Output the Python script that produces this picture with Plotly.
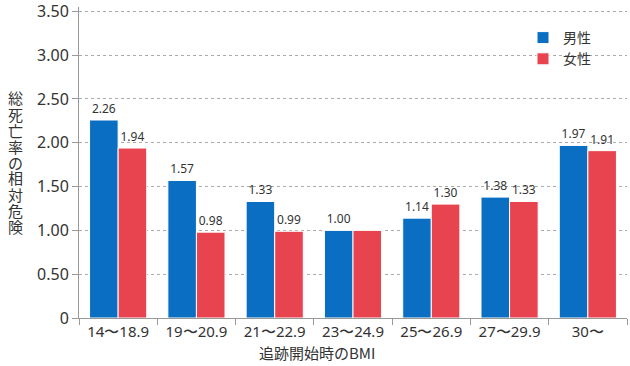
import plotly.graph_objects as go

categories = ["14〜18.9", "19〜20.9", "21〜22.9", "23〜24.9", "25〜26.9", "27〜29.9", "30〜"]
male = [2.26, 1.57, 1.33, 1.00, 1.14, 1.38, 1.97]
female = [1.94, 0.98, 0.99, 1.00, 1.30, 1.33, 1.91]
male_labels = ["2.26", "1.57", "1.33", "1.00", "1.14", "1.38", "1.97"]
female_labels = ["1.94", "0.98", "0.99", "", "1.30", "1.33", "1.91"]
y_ticks = [0, 0.5, 1.0, 1.5, 2.0, 2.5, 3.0, 3.5]
y_tick_text = ["0", "0.50", "1.00", "1.50", "2.00", "2.50", "3.00", "3.50"]
y_title = "総死亡率の相対危険"
x_title = "追跡開始時のBMI"

FONT = "Noto Sans CJK JP"
NUMFONT = "Noto Sans"
BLUE = "#0a6fc2"
RED = "#e8444f"

T, B, L, R = 7, 48, 79, 3
PH = 366 - T - B
PW = 630 - L - R

fig = go.Figure()
fig.add_trace(go.Bar(
    name="男性", x=categories, y=male, text=male_labels, textposition="outside",
    textfont=dict(size=12, color="#333333", family=NUMFONT), cliponaxis=False,
    marker=dict(color=BLUE, line=dict(color="white", width=1)),
))
fig.add_trace(go.Bar(
    name="女性", x=categories, y=female, text=female_labels, textposition="outside",
    textfont=dict(size=12, color="#333333", family=NUMFONT), cliponaxis=False,
    marker=dict(color=RED, line=dict(color="white", width=1)),
))

fig.update_layout(
    width=630, height=366,
    margin=dict(l=L, r=R, t=T, b=B, autoexpand=False),
    paper_bgcolor="white", plot_bgcolor="white",
    barmode="group", bargap=0.27, bargroupgap=0,
    font=dict(family=FONT, color="#333333"),
    showlegend=True,
    legend=dict(x=(523 - L) / PW, y=1 - (22 - T) / PH, xanchor="left", yanchor="top",
                font=dict(size=14, color="#333333", family=FONT),
                bgcolor="rgba(0,0,0,0)", tracegroupgap=0, itemwidth=30),
    xaxis=dict(
        automargin=False,
        showline=True, linecolor="#999999", linewidth=1,
        ticks="outside", tickson="boundaries", ticklen=6, tickcolor="#999999",
        tickfont=dict(size=15, color="#333333", family=NUMFONT),
    ),
    yaxis=dict(
        automargin=False,
        range=[0, 3.55], tickvals=y_ticks, ticktext=y_tick_text,
        ticklabeloverflow="allow",
        showline=True, linecolor="#999999", linewidth=1,
        ticks="outside", ticklen=6, tickcolor="#999999",
        tickfont=dict(size=16, color="#333333", family=NUMFONT),
        showgrid=True, gridcolor="#aaaaaa", griddash="dot", gridwidth=1,
        zeroline=False,
    ),
)

# x-axis title
fig.add_annotation(
    text=x_title, xref="paper", yref="paper", x=(317 - L) / PW, y=-(352 - (366 - B)) / PH,
    xanchor="center", yanchor="middle", showarrow=False,
    font=dict(size=15, color="#333333", family=FONT),
)

# vertical stacked y-axis title, one character per annotation
n = len(y_title)
pitch = 16
center_px = 162
for i, ch in enumerate(y_title):
    ypx = center_px - (n - 1) * pitch / 2 + i * pitch
    fig.add_annotation(
        text=ch, xref="paper", yref="paper",
        x=-(L - 15) / PW, y=1 - (ypx - T) / PH,
        xanchor="center", yanchor="middle", showarrow=False,
        font=dict(size=15, color="#333333", family=FONT),
    )

fig.write_html("out.html", config={"displayModeBar": False},
               post_script="document.body.style.margin='0';")
